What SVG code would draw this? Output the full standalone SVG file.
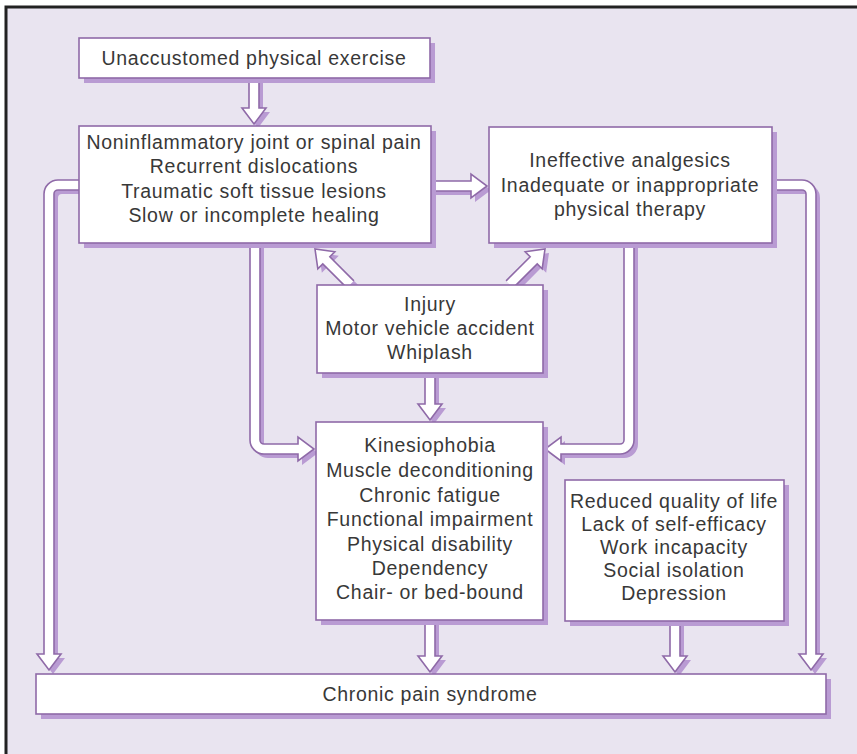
<svg xmlns="http://www.w3.org/2000/svg" xmlns:xlink="http://www.w3.org/1999/xlink" width="857" height="754" viewBox="0 0 857 754">
<style>
.box{fill:#fff;stroke:#8f6aa8;stroke-width:1.6}
.sh{fill:#b99bd3}
.pipe{fill:#fff;stroke:#8f6aa8;stroke-width:1.6;stroke-linejoin:miter}
text{font-family:"Liberation Sans",Arial,sans-serif;font-size:19.5px;letter-spacing:0.7px;fill:#383838;text-anchor:middle}
</style>
<defs>
<path id="diag" d="M-5,50 V16 H-12 L0,0 L12,16 H5 V50"/>
</defs>
<rect x="0" y="0" width="857" height="754" fill="#fff"/>
<rect x="6" y="7" width="870" height="780" fill="#e9e4f0" stroke="#222" stroke-width="3"/>

<g id="connectors">
 <g class="sh" transform="translate(4,4)">
  <path d="M249,78 V108 H242 L254,124 L266,108 H259 V78 Z"/>
  <path d="M431,181 H471 V174 L487,186 L471,198 V191 H431 Z"/>
  <path d="M79,180 H58 A14,14 0 0 0 44,194 V654 H37 L49,670 L61,654 H54 V194 A4,4 0 0 1 58,190 H79 Z"/>
  <path d="M772,180 H802 A14,14 0 0 1 816,194 V654 H823 L811,670 L799,654 H806 V194 A4,4 0 0 0 802,190 H772 Z"/>
  <path d="M250,243 V440 A14,14 0 0 0 264,454 H298 V461 L314,449 L298,437 V444 H264 A4,4 0 0 1 260,440 V243 Z"/>
  <path d="M634,243 V440 A14,14 0 0 1 620,454 H561 V461 L545,449 L561,437 V444 H620 A4,4 0 0 0 624,440 V243 Z"/>
  <use xlink:href="#diag" transform="translate(315,249) rotate(-45)"/>
  <use xlink:href="#diag" transform="translate(545,249) rotate(45)"/>
  <path d="M425,373 V404 H418 L430,420 L442,404 H435 V373 Z"/>
  <path d="M425,620 V656 H418 L430,672 L442,656 H435 V620 Z"/>
  <path d="M670,621 V656 H663 L675,672 L687,656 H680 V621 Z"/>
 </g>
 <g class="pipe">
  <path d="M249,78 V108 H242 L254,124 L266,108 H259 V78"/>
  <path d="M431,181 H471 V174 L487,186 L471,198 V191 H431"/>
  <path d="M79,180 H58 A14,14 0 0 0 44,194 V654 H37 L49,670 L61,654 H54 V194 A4,4 0 0 1 58,190 H79"/>
  <path d="M772,180 H802 A14,14 0 0 1 816,194 V654 H823 L811,670 L799,654 H806 V194 A4,4 0 0 0 802,190 H772"/>
  <path d="M250,243 V440 A14,14 0 0 0 264,454 H298 V461 L314,449 L298,437 V444 H264 A4,4 0 0 1 260,440 V243"/>
  <path d="M634,243 V440 A14,14 0 0 1 620,454 H561 V461 L545,449 L561,437 V444 H620 A4,4 0 0 0 624,440 V243"/>
  <use xlink:href="#diag" transform="translate(315,249) rotate(-45)"/>
  <use xlink:href="#diag" transform="translate(545,249) rotate(45)"/>
  <path d="M425,373 V404 H418 L430,420 L442,404 H435 V373"/>
  <path d="M425,620 V656 H418 L430,672 L442,656 H435 V620"/>
  <path d="M670,621 V656 H663 L675,672 L687,656 H680 V621"/>
 </g>
</g>

<g id="n-exercise">
 <rect class="sh" x="84" y="43" width="351" height="40"/>
 <rect class="box" x="79" y="38" width="351" height="40"/>
 <text x="254" y="65">Unaccustomed physical exercise</text>
</g>
<g id="n-pain">
 <rect class="sh" x="84" y="131" width="352" height="117"/>
 <rect class="box" x="79" y="126" width="352" height="117"/>
 <text x="254" y="149">Noninflammatory joint or spinal pain</text>
 <text x="254" y="173">Recurrent dislocations</text>
 <text x="254" y="198">Traumatic soft tissue lesions</text>
 <text x="254" y="222">Slow or incomplete healing</text>
</g>
<g id="n-therapy">
 <rect class="sh" x="494" y="132" width="283" height="116"/>
 <rect class="box" x="489" y="127" width="283" height="116"/>
 <text x="630" y="167">Ineffective analgesics</text>
 <text x="630" y="192">Inadequate or inappropriate</text>
 <text x="630" y="216">physical therapy</text>
</g>
<g id="n-injury">
 <rect class="sh" x="322" y="290" width="226" height="88"/>
 <rect class="box" x="317" y="285" width="226" height="88"/>
 <text x="430" y="311">Injury</text>
 <text x="430" y="335">Motor vehicle accident</text>
 <text x="430" y="359">Whiplash</text>
</g>
<g id="n-kinesio">
 <rect class="sh" x="321" y="427" width="227" height="198"/>
 <rect class="box" x="316" y="422" width="227" height="198"/>
 <text x="430" y="452">Kinesiophobia</text>
 <text x="430" y="477">Muscle deconditioning</text>
 <text x="430" y="502">Chronic fatigue</text>
 <text x="430" y="526">Functional impairment</text>
 <text x="430" y="551">Physical disability</text>
 <text x="430" y="575">Dependency</text>
 <text x="430" y="599">Chair- or bed-bound</text>
</g>
<g id="n-quality">
 <rect class="sh" x="570" y="485" width="219" height="141"/>
 <rect class="box" x="565" y="480" width="219" height="141"/>
 <text x="674" y="508">Reduced quality of life</text>
 <text x="674" y="531">Lack of self-efficacy</text>
 <text x="674" y="554">Work incapacity</text>
 <text x="674" y="577">Social isolation</text>
 <text x="674" y="600">Depression</text>
</g>
<g id="n-chronic">
 <rect class="sh" x="41" y="679" width="790" height="40"/>
 <rect class="box" x="36" y="674" width="790" height="40"/>
 <text x="430" y="701">Chronic pain syndrome</text>
</g>
</svg>
